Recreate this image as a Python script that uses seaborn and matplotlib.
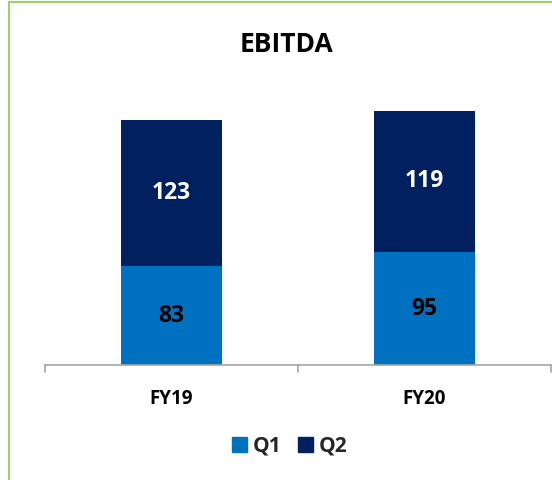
import matplotlib
matplotlib.use("Agg")
import matplotlib.pyplot as plt
import seaborn as sns
import pandas as pd
from matplotlib.patches import Rectangle

categories = ["FY19", "FY20"]
q1_values = [83, 95]
q2_values = [123, 119]
series = ["Q1", "Q2"]
colors = {"Q1": "#0070C0", "Q2": "#002060"}

sns.set_theme(style="white")
plt.rcParams['font.family'] = ['Open Sans', 'DejaVu Sans']

fig = plt.figure(figsize=(5.52, 4.80), dpi=100)
ax = fig.add_axes([45/552, 1 - 365/480, (551 - 45)/552, (365 - 68)/480])

df = pd.DataFrame({"cat": categories, "Q1": q1_values, "Q2": q2_values})
df["total"] = df["Q1"] + df["Q2"]

sns.barplot(data=df, x="cat", y="total", color=colors["Q2"], width=0.4, ax=ax,
            saturation=1, linewidth=0)
sns.barplot(data=df, x="cat", y="Q1", color=colors["Q1"], width=0.4, ax=ax,
            saturation=1, linewidth=0)
if ax.get_legend() is not None:
    ax.get_legend().remove()

for i, (a, b) in enumerate(zip(q1_values, q2_values)):
    ax.text(i, a / 2, str(a), ha="center", va="center", fontsize=16.5,
            fontweight="bold", color="black")
    ax.text(i, a + b / 2, str(b), ha="center", va="center", fontsize=16.5,
            fontweight="bold", color="white")

ax.set_xlim(-0.5, 1.5)
ax.set_ylim(0, 250)
ax.set_xlabel("")
ax.set_ylabel("")
ax.set_yticks([])
for s in ["top", "right", "left"]:
    ax.spines[s].set_visible(False)
ax.spines["bottom"].set_color("#A6A6A6")
ax.spines["bottom"].set_linewidth(1.2)
ax.set_xticks([0, 1])
ax.set_xticklabels(categories, fontsize=13.5, fontweight="bold", color="black")
ax.tick_params(axis="x", length=0, pad=17)
for xb in [-0.5, 0.5, 1.5]:
    ax.plot([xb, xb], [0, -6], color="#A6A6A6", lw=1.2, clip_on=False)

handles = [Rectangle((0, 0), 1, 1, color=colors[s]) for s in series]
leg = fig.legend(handles, series, loc="center", bbox_to_anchor=(290/552, 1 - 446/480),
                 ncol=2, frameon=False, handlelength=0.7, handleheight=0.7,
                 handletextpad=0.3, columnspacing=0.8,
                 prop={"size": 15, "weight": "bold"})

fig.text(287/552, 1 - 44/480, "EBITDA", ha="center", va="center",
         fontsize=19, fontweight="bold", color="black")

fig.patches.append(Rectangle((9/552, -0.1), 1.2, 0.1 + 478/480, transform=fig.transFigure,
                             fill=False, edgecolor="#9ED36A", linewidth=1.5, figure=fig))

fig.savefig("out.png", dpi=100)
